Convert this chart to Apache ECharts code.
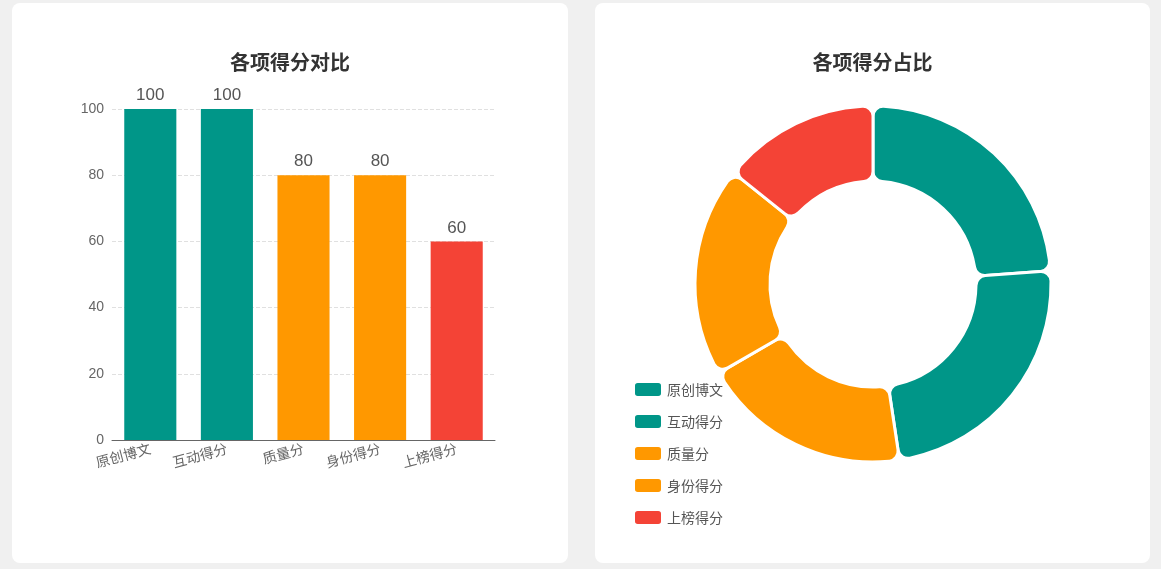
<!DOCTYPE html>
<html><head><meta charset="utf-8">
<script src="https://cdn.jsdelivr.net/npm/echarts@6/dist/echarts.min.js"></script>
<style>
body{margin:0;background:#f0f0f0;font-family:"Noto Sans CJK SC",sans-serif;}
.card{position:absolute;top:3px;height:560px;background:#fff;border-radius:8px;}
</style></head><body>
<div id="bar" class="card" style="left:12px;width:556px"></div>
<div id="pie" class="card" style="left:595px;width:555px"></div>
<script>
const categories = ['原创博文', '互动得分', '质量分', '身份得分', '上榜得分'];
const scores = [100, 100, 80, 80, 60];
const colors = ['#009688', '#009688', '#ff9800', '#ff9800', '#f44336'];
const font = '"Noto Sans CJK SC", sans-serif';

const barChart = echarts.init(document.getElementById('bar'));
barChart.setOption({
  animation: false,
  title: { text: '各项得分对比', left: 'center', top: 44, textStyle: { fontSize: 20, fontWeight: 'bold', color: '#333', fontFamily: font } },
  grid: { left: 100, right: 73, top: 106, bottom: 123 },
  xAxis: {
    type: 'category', data: categories,
    axisLine: { lineStyle: { color: '#666' } }, axisTick: { show: false },
    axisLabel: { rotate: 15, color: '#666', fontSize: 14, fontFamily: font, interval: 0 }
  },
  yAxis: {
    type: 'value', min: 0, max: 100, interval: 20,
    axisLabel: { color: '#666', fontSize: 14 },
    splitLine: { lineStyle: { type: 'dashed', color: '#e0e0e0' } }
  },
  series: [{
    type: 'bar', barWidth: '68%',
    data: scores.map((v, i) => ({ value: v, itemStyle: { color: colors[i] } })),
    label: { show: true, position: 'top', fontSize: 17, color: '#555' }
  }]
});

const pieChart = echarts.init(document.getElementById('pie'));
pieChart.setOption({
  animation: false,
  title: { text: '各项得分占比', left: 'center', top: 44, textStyle: { fontSize: 20, fontWeight: 'bold', color: '#333', fontFamily: font } },
  legend: {
    orient: 'vertical', left: 33, top: 373, itemWidth: 28, itemHeight: 15, itemGap: 15,
    textStyle: { color: '#555', fontSize: 14, fontFamily: font }
  },
  series: [{
    type: 'pie', center: [278, 281], radius: [103, 178], startAngle: 90,
    itemStyle: { borderColor: '#fff', borderWidth: 3, borderRadius: 10 },
    label: { show: false }, labelLine: { show: false },
    data: categories.map((c, i) => ({ name: c, value: scores[i], itemStyle: { color: colors[i] } }))
  }]
});
</script></body></html>
